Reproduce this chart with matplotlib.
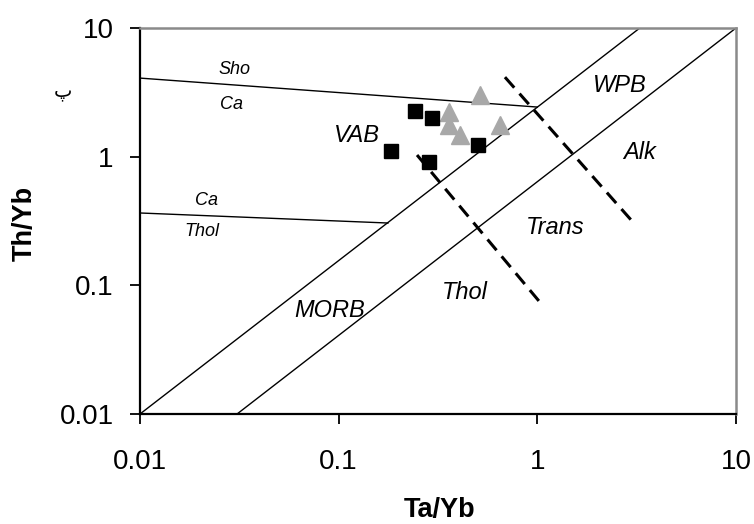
import matplotlib
matplotlib.use("Agg")
import matplotlib.pyplot as plt
import numpy as np

plt.rcParams['font.family'] = ['Liberation Sans', 'DejaVu Sans']

# Sample data
sq_x = [0.242, 0.295, 0.183, 0.284, 0.502]
sq_y = [2.26, 2.00, 1.105, 0.908, 1.23]
tri_x = [0.514, 0.359, 0.359, 0.407, 0.648]
tri_y = [3.01, 2.22, 1.76, 1.47, 1.76]

# Boundary lines (solid)
sho_ca_x = [0.01, 1.0]
sho_ca_y = [4.08, 2.43]
ca_thol_x = [0.01, 0.177]
ca_thol_y = [0.365, 0.305]
morb_up_x = [0.01, 3.28]
morb_up_y = [0.01, 10.0]
morb_lo_x = [0.0308, 10.0]
morb_lo_y = [0.01, 10.0]
# Dashed lines
dash_up_x = [0.687, 3.03]
dash_up_y = [4.15, 0.31]
dash_lo_x = [0.248, 1.03]
dash_lo_y = [1.03, 0.074]

small_labels = [("Sho", 0.030, 4.8), ("Ca", 0.029, 2.56), ("Ca", 0.0217, 0.46), ("Thol", 0.0205, 0.264)]
big_labels = [("VAB", 0.1236, 1.47), ("WPB", 2.61, 3.6), ("Alk", 3.28, 1.086),
              ("Trans", 1.226, 0.279), ("Thol", 0.432, 0.0887), ("MORB", 0.0904, 0.064)]

xticks = [0.01, 0.1, 1, 10]
xticklabels = ["0.01", "0.1", "1", "10"]
yticks = [0.01, 0.1, 1, 10]
yticklabels = ["0.01", "0.1", "1", "10"]

fig = plt.figure(figsize=(7.54, 5.24), dpi=100)
ax = fig.add_axes([140/754, 1-414/524, (736-140)/754, (414-28)/524])
ax.set_xscale('log')
ax.set_yscale('log')
ax.set_xlim(0.01, 10)
ax.set_ylim(0.01, 10)

lc = 'black'
ax.plot(sho_ca_x, sho_ca_y, color=lc, lw=1.0)
ax.plot(ca_thol_x, ca_thol_y, color=lc, lw=1.0)
ax.plot(morb_up_x, morb_up_y, color=lc, lw=1.0)
ax.plot(morb_lo_x, morb_lo_y, color=lc, lw=1.0)
ax.plot(dash_up_x, dash_up_y, color=lc, lw=2.2, dashes=(4.6, 2.6))
ax.plot(dash_lo_x, dash_lo_y, color=lc, lw=2.2, dashes=(4.6, 2.6))

ax.plot(tri_x, tri_y, linestyle='none', marker='^', ms=13.5, color='#a8a8a8', mec='#a8a8a8')
ax.plot(sq_x, sq_y, linestyle='none', marker='s', ms=10.5, color='black')

for t, x, y in small_labels:
    ax.text(x, y, t, fontsize=13, style='italic', ha='center', va='center')
for t, x, y in big_labels:
    ax.text(x, y, t, fontsize=17, style='italic', ha='center', va='center')

ax.set_xticks(xticks)
ax.set_xticklabels(xticklabels)
ax.set_yticks(yticks)
ax.set_yticklabels(yticklabels)
ax.minorticks_off()
ax.tick_params(axis='both', which='major', direction='out', length=7, width=1.3,
               labelsize=20, color='black')
ax.tick_params(axis='x', pad=18)
ax.tick_params(axis='y', pad=12)

for s in ['left', 'bottom']:
    ax.spines[s].set_color('black')
    ax.spines[s].set_linewidth(1.6)
for s in ['top', 'right']:
    ax.spines[s].set_color('#8a8a8a')
    ax.spines[s].set_linewidth(1.8)

fig.text(25/754, 1-223/524, "Th/Yb", rotation=90, fontsize=19.5, fontweight='bold',
         ha='center', va='center')
fig.text(440/754, 1-510/524, "Ta/Yb", fontsize=19.5, fontweight='bold',
         ha='center', va='center')
fig.text(63/754, 1-93/524, "پ", fontsize=14, family=['DejaVu Sans'], ha='center', va='center')

fig.savefig("out.png", dpi=100)
